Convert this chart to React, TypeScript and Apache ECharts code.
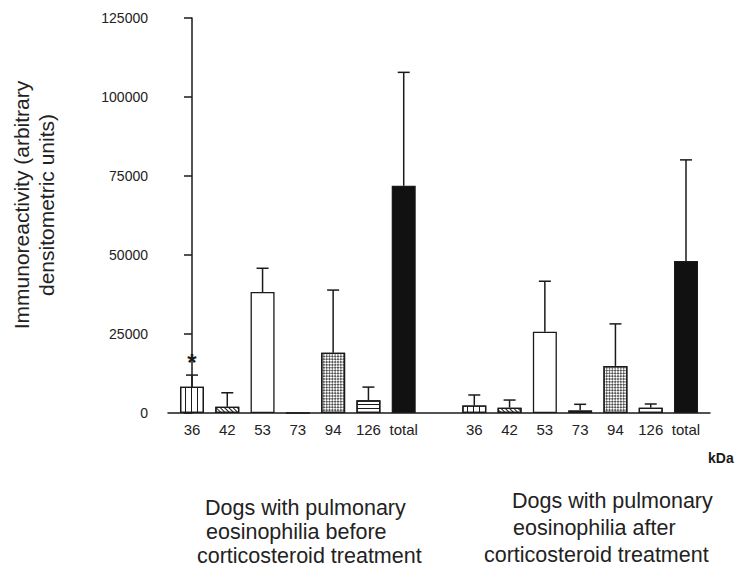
import React, { useEffect, useRef } from "react";
import * as echarts from "echarts";

const categories = ["36", "42", "53", "73", "94", "126", "total"];
const beforeMeans = [8300, 2000, 38300, 0, 19100, 4000, 71900];
const beforeSem = [3700, 4400, 7500, 0, 19800, 4200, 35900];
const afterMeans = [2400, 1700, 25700, 850, 14900, 1700, 48100];
const afterSem = [3300, 2400, 16000, 1900, 13300, 1150, 32000];
const yTicks = [0, 25000, 50000, 75000, 100000, 125000];
const groupOffsets = [0, 8];
const groupTitles = [
  ["Dogs with pulmonary", "eosinophilia before", "corticosteroid treatment"],
  ["Dogs with pulmonary", "eosinophilia after", "corticosteroid treatment"],
];

const INK = "#1a1a1a";
const FONT = "'Liberation Sans', Arial, sans-serif";

const decalFor = (i: number): any => {
  switch (i) {
    case 0:
      return { symbol: "rect", symbolSize: 1, color: INK, dashArrayX: [1, 0], dashArrayY: [1, 4.5], rotation: Math.PI / 2 };
    case 1:
      return { symbol: "rect", symbolSize: 1, color: INK, dashArrayX: [1, 0], dashArrayY: [1, 2], rotation: Math.PI / 4 };
    case 4:
      return { symbol: "rect", symbolSize: 1, color: "#555", dashArrayX: [[1.5, 1.5], [0, 1.5, 1.5, 0]], dashArrayY: [1.5, 0], rotation: Math.PI / 4 };
    case 5:
      return { symbol: "rect", symbolSize: 1, color: INK, dashArrayX: [1, 0], dashArrayY: [1, 3] };
    default:
      return undefined;
  }
};

const fillFor = (i: number) => (i === 3 || i === 6 ? "#111" : "#fff");

export default function App() {
  const ref = useRef<HTMLDivElement>(null);
  useEffect(() => {
    document.body.style.margin = "0";
    if (!ref.current) return;
    const chart = echarts.init(ref.current, null, { renderer: "svg" });

    const labelByPos: Record<number, string> = {};
    const barData: any[] = [];
    const errData: any[] = [];
    const groups = [
      { means: beforeMeans, sem: beforeSem },
      { means: afterMeans, sem: afterSem },
    ];
    groups.forEach((g, gi) => {
      categories.forEach((c, i) => {
        const x = groupOffsets[gi] + i;
        labelByPos[x] = c;
        const item: any = {
          value: [x, g.means[i]],
          itemStyle: {
            color: fillFor(i),
            borderColor: INK,
            borderWidth: 1.3,
            decal: decalFor(i),
          },
        };
        if (gi === 0 && i === 0) {
          item.label = {
            show: true,
            position: "top",
            distance: 12,
            formatter: "*",
            fontSize: 24,
            fontWeight: "bold",
            color: INK,
            fontFamily: FONT,
          };
        }
        barData.push(item);
        errData.push([x, g.means[i], g.means[i] + g.sem[i]]);
      });
    });

    const graphics: any[] = [
      {
        type: "text",
        x: 34,
        y: 205,
        rotation: Math.PI / 2,
        style: {
          text: "Immunoreactivity (arbitrary\ndensitometric units)",
          fontSize: 21,
          lineHeight: 25,
          fontFamily: FONT,
          fill: "#222",
          align: "center",
          verticalAlign: "middle",
        },
      },
      {
        type: "text",
        x: 708,
        y: 458,
        style: { text: "kDa", fontSize: 14, fontWeight: "bold", fontFamily: FONT, fill: INK, verticalAlign: "middle" },
      },
    ];
    const titlePos = [
      { xs: [205, 206, 197], ys: [507.5, 531.5, 555.5] },
      { xs: [512, 513, 484], ys: [500.5, 527.5, 554.5] },
    ];
    groupTitles.forEach((lines, gi) => {
      lines.forEach((t, li) => {
        graphics.push({
          type: "text",
          x: titlePos[gi].xs[li],
          y: titlePos[gi].ys[li],
          style: { text: t, fontSize: 21.5, fontFamily: FONT, fill: "#222", verticalAlign: "middle" },
        });
      });
    });

    chart.setOption({
      animation: false,
      grid: { left: 168, right: 31, top: 18, bottom: 157 },
      xAxis: {
        type: "value",
        min: -0.68,
        max: 14.68,
        splitLine: { show: false },
        axisLine: { show: true, lineStyle: { color: INK, width: 1.5 } },
        axisTick: { show: false },
        axisLabel: {
          customValues: Object.keys(labelByPos).map(Number),
          formatter: (v: number) => labelByPos[Math.round(v)] ?? "",
          fontSize: 15,
          color: "#222",
          fontFamily: FONT,
          margin: 9,
        },
      },
      yAxis: {
        type: "value",
        min: yTicks[0],
        max: yTicks[yTicks.length - 1],
        interval: 25000,
        splitLine: { show: false },
        axisLine: { show: true, lineStyle: { color: INK, width: 1.5 } },
        axisTick: { show: true, length: 8, lineStyle: { color: INK, width: 1.5 } },
        axisLabel: {
          fontSize: 14,
          color: "#222",
          fontFamily: FONT,
          margin: 20,
          formatter: (v: number) => String(v),
        },
      },
      series: [
        {
          type: "bar",
          data: barData,
          barWidth: 24,
          z: 2,
        },
        {
          type: "custom",
          data: errData,
          encode: { x: 0, y: [1, 2] },
          z: 3,
          renderItem: (params: any, api: any) => {
            const x = api.value(0);
            const y = api.value(1);
            const top = api.value(2);
            if (top <= y) return { type: "group", children: [] };
            const p0 = api.coord([x, y]);
            const p1 = api.coord([x, top]);
            const half = 6;
            const style = { stroke: INK, lineWidth: 1.5 };
            return {
              type: "group",
              children: [
                { type: "line", shape: { x1: p0[0], y1: p0[1], x2: p1[0], y2: p1[1] }, style },
                { type: "line", shape: { x1: p1[0] - half, y1: p1[1], x2: p1[0] + half, y2: p1[1] }, style },
              ],
            };
          },
        },
      ],
      graphic: graphics,
    });
    return () => chart.dispose();
  }, []);
  return <div ref={ref} style={{ width: 741, height: 570 }} />;
}
